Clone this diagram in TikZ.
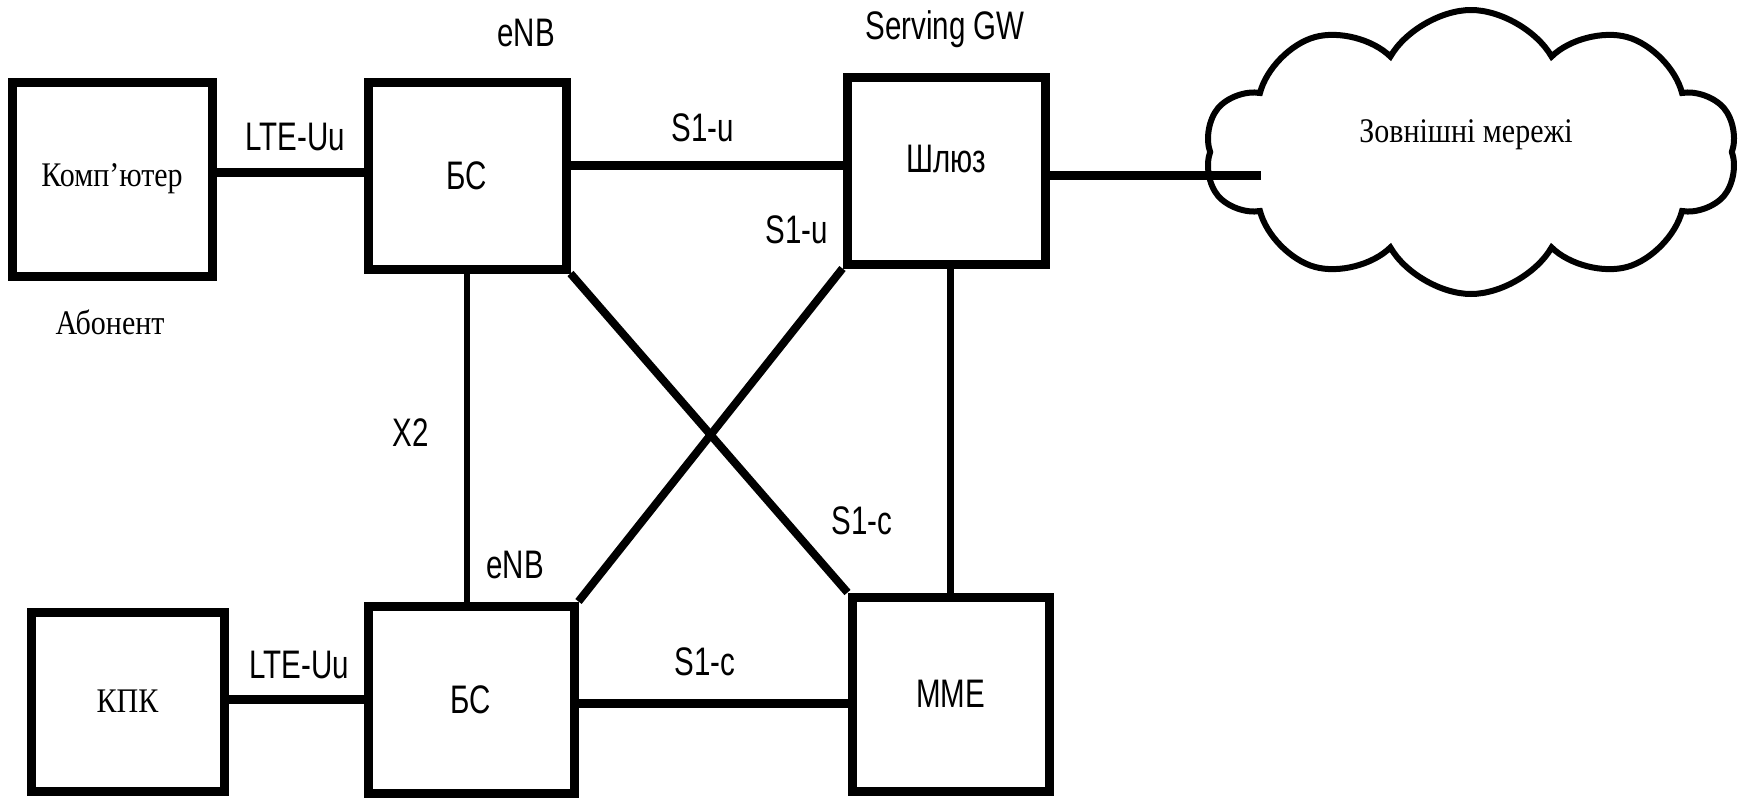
\documentclass[tikz,border=0pt]{standalone}
\usepackage{fontspec}
\usepackage{graphicx}
\setmainfont{Liberation Serif}
\setsansfont{Liberation Sans}
\usetikzlibrary{shapes.symbols}
\newcommand{\tallsans}[1]{\scalebox{1}[1.35]{#1}}
\newcommand{\tallserif}[1]{\scalebox{1}[1.15]{#1}}
\begin{document}
\begin{tikzpicture}[x=0.5pt,y=-0.5pt,
  box/.style={draw=black, line width=4.5pt, inner sep=0pt},
  conn/.style={line width=4.5pt},
  vconn/.style={line width=3.25pt},
  dconn/.style={line width=4pt},
  sf/.style={font=\sffamily\fontsize{14.75}{17}\selectfont, inner sep=0pt},
  rm/.style={font=\rmfamily\fontsize{15}{18}\selectfont, inner sep=0pt}]
\useasboundingbox (0,0) rectangle (1753,798);
% boxes
\node[box, rm, minimum width=100pt, minimum height=97pt] (pc) at (112,179) {\tallserif{Комп'ютер}};
\node[box, sf, minimum width=99pt, minimum height=93.5pt] (bs1) at (467,175.5) {\tallsans{БС}};
\node[box, sf, minimum width=99pt, minimum height=93.5pt] (gw) at (946,170.5) {\raisebox{12pt}{\tallsans{Шлюз}}};
\node[box, rm, minimum width=96.5pt, minimum height=89.5pt] (kpk) at (127.5,701.5) {\tallserif{КПК}};
\node[box, sf, minimum width=103pt, minimum height=93.5pt] (bs2) at (471,699.5) {\tallsans{БС}};
\node[box, sf, minimum width=98.5pt, minimum height=97pt] (mme) at (950.5,694) {\tallsans{MME}};
% cloud
\node[cloud, draw=black, line width=3pt, cloud puffs=10, cloud puff arc=120, aspect=1.86,
      minimum width=266pt, minimum height=142pt, inner sep=0pt] (net) at (1471,152) {};
\node[rm] (nettext) at (1466,135) {\tallserif{Зовнішні мережі}};
\coordinate (netin) at (1261,175);
% connectors
\draw[conn] ([yshift=1.75pt]bs1.west) -- ([yshift=1.75pt]bs1.west -| pc.east);
\draw[conn] ([yshift=5.25pt]bs1.east) -- ([yshift=5.25pt]bs1.east -| gw.west);
\draw[conn] ([yshift=-2.25pt]gw.east) -- (netin);
\draw[vconn] (bs1.south) -- (bs1.south |- bs2.north);
\draw[vconn] (mme.north) -- (mme.north |- gw.south);
\draw[conn] (bs2.west) -- (bs2.west -| kpk.east);
\draw[conn] ([yshift=-1.75pt]bs2.east) -- ([yshift=-1.75pt]bs2.east -| mme.west);
\draw[dconn] (bs1.south east) -- (mme.north west);
\draw[dconn] (bs2.north east) -- (gw.south west);
% labels
\node[sf] (enb1) at (526,33) {\tallsans{eNB}};
\node[sf] (sgw) at (945,29) {\tallsans{Serving GW}};
\node[sf] (lte1) at (295,137) {\tallsans{LTE-Uu}};
\node[sf] (s1u1) at (703,128) {\tallsans{S1-u}};
\node[sf] (s1u2) at (797,230) {\tallsans{S1-u}};
\node[rm] (abon) at (110,322) {\tallserif{Абонент}};
\node[sf] (x2) at (411,433) {\tallsans{X2}};
\node[sf] (enb2) at (515,565) {\tallsans{eNB}};
\node[sf] (s1c1) at (862,521) {\tallsans{S1-c}};
\node[sf] (lte2) at (299,665) {\tallsans{LTE-Uu}};
\node[sf] (s1c2) at (705,662) {\tallsans{S1-c}};
\end{tikzpicture}
\end{document}
